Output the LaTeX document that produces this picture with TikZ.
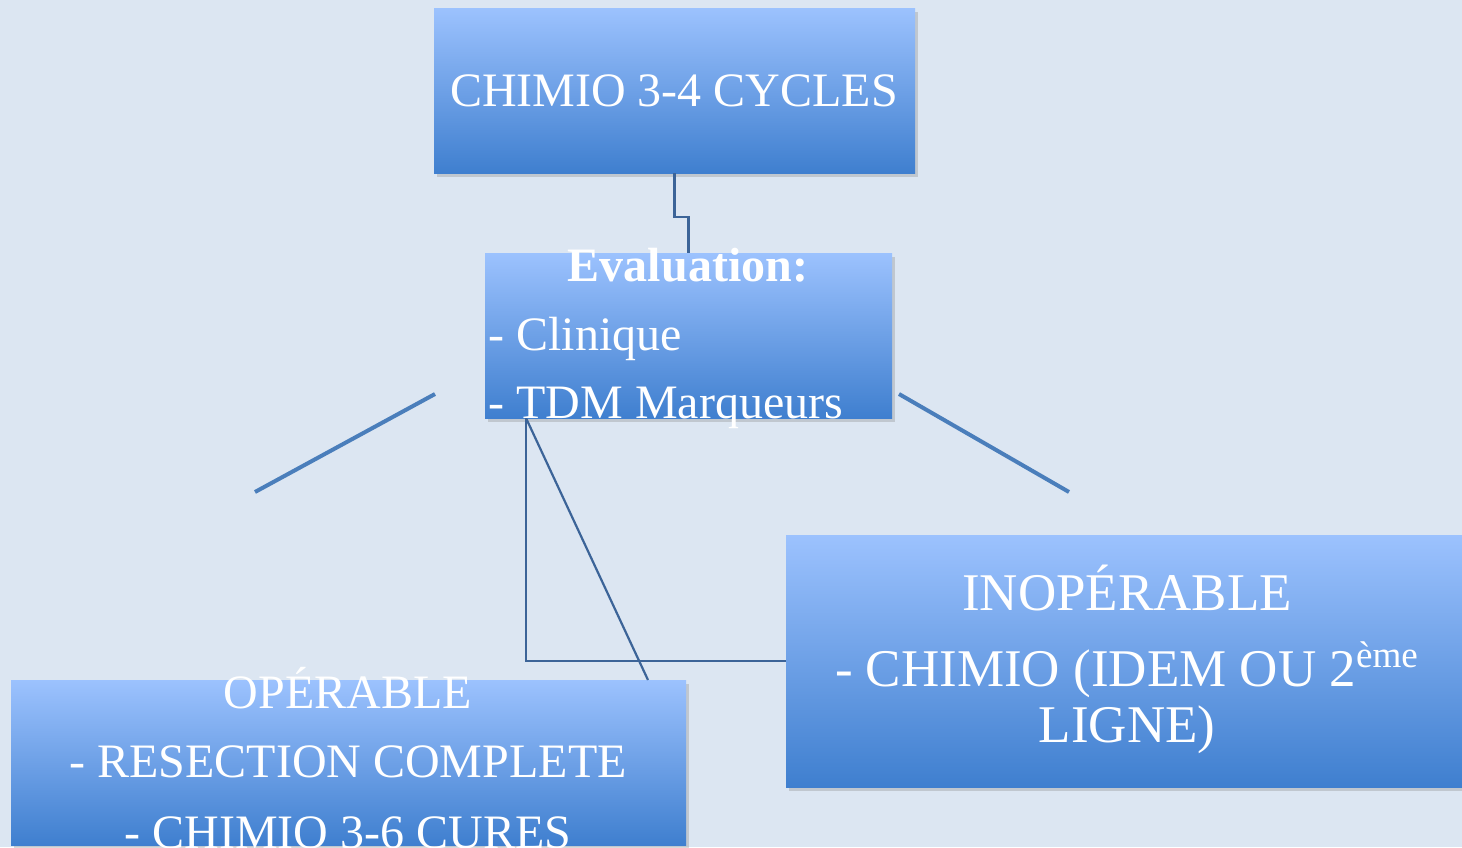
\documentclass[tikz,border=0pt]{standalone}
\usepackage{fontspec}
\setmainfont{Liberation Serif}
\usepackage{tikz}
\usetikzlibrary{shadows,calc}
\definecolor{slidebg}{HTML}{DCE6F2}
\definecolor{boxtop}{HTML}{9CC2FE}
\definecolor{boxbot}{HTML}{3F7FCF}
\definecolor{linkblue}{HTML}{3C6498}
\definecolor{barblue}{HTML}{4A7EBB}

\begin{document}
\begin{tikzpicture}[x=0.5pt,y=-0.5pt,
  box/.style={inner sep=0pt,outer sep=0pt,top color=boxtop,bottom color=boxbot,
    drop shadow={opacity=0.3,shadow xshift=1.5pt,shadow yshift=-2pt}},
  txt/.style={text=white,inner sep=0pt,anchor=base,font=\fontsize{24}{28}\selectfont},
  bigtxt/.style={txt,font=\fontsize{26.5}{30}\selectfont},
  link/.style={draw=linkblue,line width=1.1pt},
  bar/.style={draw=barblue,line width=2pt}]
  \useasboundingbox (0,0) rectangle (1462,847);
  \clip (0,0) rectangle (1462,847);
  \fill[slidebg] (0,0) rectangle (1462,847);

  % loose bars
  \draw[bar] (435,394) -- (255,492);
  \draw[bar] (899,394) -- (1069,492);

  % boxes
  \node[box,minimum width=240.5pt,minimum height=82.5pt] (chimio) at (674.5,90.5) {};
  \node[box,minimum width=203.5pt,minimum height=82.5pt] (eval) at (688.5,335.5) {};
  \node[box,minimum width=342pt,minimum height=126pt] (inop) at (1128,661) {};
  \node[box,minimum width=337.5pt,minimum height=82.5pt] (oper) at (348.5,762.5) {};

  % links
  \coordinate (evalfoot) at ([xshift=20.5pt]eval.south west);
  \draw[link] (chimio.south) -- ++(0,44) -| (eval.north);
  \draw[link] (evalfoot) |- (inop.west);
  \draw[link] (evalfoot) -- ([xshift=-19pt]oper.north east);

  % texts
  \node[txt] (chimiotxt) at (674,106) {CHIMIO 3-4 CYCLES};
  \node[txt,font=\bfseries\fontsize{24}{28}\selectfont] (evaltitle) at (688,281) {Evaluation:};
  \node[txt,anchor=base west] (evalone) at (488,350) {- Clinique};
  \node[txt,anchor=base west] (evaltwo) at (488,418) {- TDM Marqueurs};
  \node[bigtxt] (inoptitle) at (1127,610) {INOPÉRABLE};
  \node[bigtxt] (inopone) at (1127,686) {- CHIMIO (IDEM OU 2\textsuperscript{ème}};
  \node[bigtxt] (inoptwo) at (1127,742) {LIGNE)};
  \node[txt] (opertitle) at (348,708) {OPÉRABLE};
  \node[txt] (operone) at (348,777) {- RESECTION COMPLETE};
  \node[txt] (opertwo) at (348,848) {- CHIMIO 3-6 CURES};
\end{tikzpicture}
\end{document}
